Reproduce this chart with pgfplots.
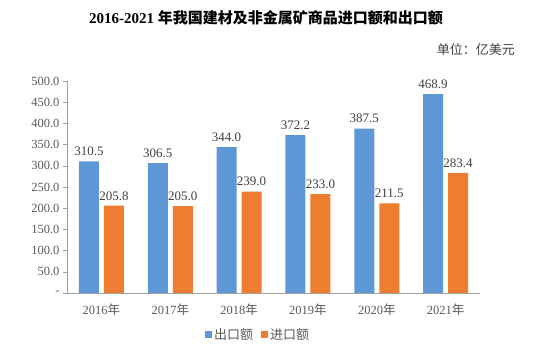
\documentclass[border=0pt]{standalone}
\usepackage{fontspec}
\setmainfont{Liberation Serif}
\newfontfamily\cjk{Noto Sans CJK SC}
\usepackage{pgfplots}
\pgfplotsset{compat=1.18}
\definecolor{cblue}{HTML}{5E97D6}
\definecolor{corange}{HTML}{ED7D31}
\definecolor{tgray}{HTML}{595959}
\definecolor{lgray}{HTML}{404040}
\definecolor{agray}{HTML}{A0A0A0}
\begin{document}
\begin{tikzpicture}
\useasboundingbox (0,0) rectangle (551pt,355pt);
\node[font=\fontsize{15pt}{17pt}\selectfont\bfseries] at (266pt,337pt) {2016-2021 {\cjk 年我国建材及非金属矿商品进口额和出口额}};
\node[font=\fontsize{13pt}{15pt}\selectfont\cjk, text=lgray, anchor=east, inner sep=0pt] at (515pt,305pt) {单位：亿美元};
\begin{axis}[
  at={(67pt,62pt)}, anchor=south west,
  scale only axis, width=413pt, height=212pt,
  xmin=-0.5, xmax=5.5, ymin=0, ymax=500,
  ybar=5pt, bar width=20pt,
  axis x line*=bottom, axis y line*=left,
  axis line style={draw=agray, -},
  xtick={0,1,2,3,4,5},
  xticklabels={2016{\cjk 年},2017{\cjk 年},2018{\cjk 年},2019{\cjk 年},2020{\cjk 年},2021{\cjk 年}},
  x tick style={draw=none},
  ytick={0,50,100,150,200,250,300,350,400,450,500},
  yticklabels={-,50.0,100.0,150.0,200.0,250.0,300.0,350.0,400.0,450.0,500.0},
  y tick style={draw=agray},
  tick align=outside, major tick length=4pt,
  ticklabel style={font=\fontsize{12.5pt}{14pt}\selectfont, text=tgray},
  xticklabel style={yshift=-3pt},
  nodes near coords={\pgfmathprintnumber[fixed,fixed zerofill,precision=1,assume math mode=true]{\pgfplotspointmeta}},
  every node near coord/.append style={font=\fontsize{13pt}{15pt}\selectfont, text=lgray, yshift=2pt},
  legend columns=2,
  legend style={draw=none, at={(0.4625,-0.198)}, anchor=center, font=\fontsize{13pt}{15pt}\selectfont\cjk, text=tgray, /tikz/every even column/.append style={column sep=6pt}},
  legend image code/.code={\fill[#1,draw=none] (0pt,-3.5pt) rectangle (7pt,3.5pt);},
]
\addplot[fill=cblue, draw=none] coordinates {(0,310.5) (1,306.5) (2,344.0) (3,372.2) (4,387.5) (5,468.9)};
\addplot[fill=corange, draw=none] coordinates {(0,205.8) (1,205.0) (2,239.0) (3,233.0) (4,211.5) (5,283.4)};
\legend{出口额,进口额}
\end{axis}
\end{tikzpicture}
\end{document}
